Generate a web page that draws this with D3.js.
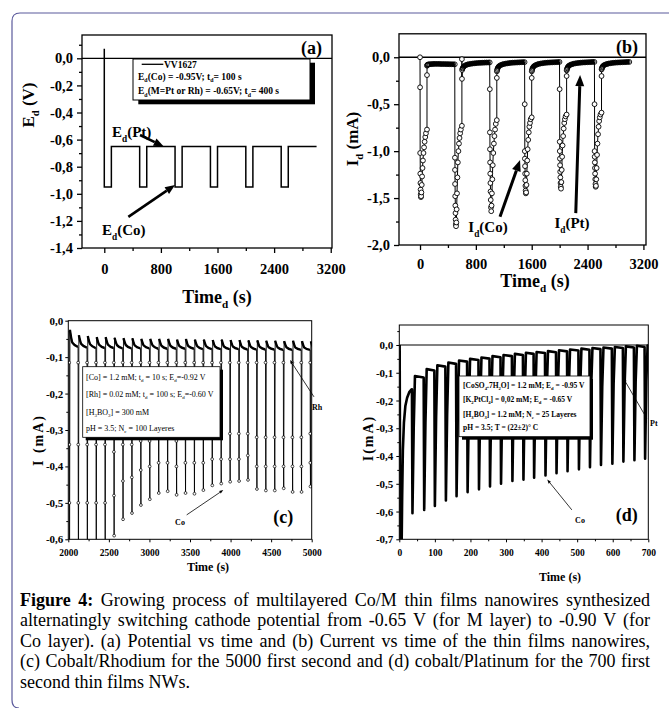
<!DOCTYPE html>
<html>
<head>
<meta charset="utf-8">
<script src="https://cdn.jsdelivr.net/npm/d3@7/dist/d3.min.js"></script>
<style>
body { margin: 0; background: #fff; }
svg { display: block; }
text { font-family: "Liberation Serif", "Times New Roman", serif; fill: #000; }
</style>
</head>
<body>
<svg id="fig"></svg>
<script>
// ---- data: (a) potential vs time
var aTime = [0, 0, 100, 100, 500, 500, 600, 600, 1000, 1000, 1100, 1100, 1500, 1500, 1600, 1600, 2000, 2000, 2100, 2100, 2500, 2500, 2600, 2600, 3000];
var aPotential = [0.07, -0.95, -0.95, -0.65, -0.65, -0.95, -0.95, -0.65, -0.65, -0.95, -0.95, -0.65, -0.65, -0.95, -0.95, -0.65, -0.65, -0.95, -0.95, -0.65, -0.65, -0.95, -0.95, -0.65, -0.65];

// ---- data: (b) current vs time, one row per Co/Pt cycle
var bCycleStart = [0, 500, 1000, 1500, 2000, 2500];
var bCoOffsets = [0, 1, 2, 4, 6, 8, 10, 13, 16, 20, 25, 30, 36, 42, 50, 58, 66, 75, 85, 100];
var bCoValues = [
    [0.0, -0.32, -1.02, -1.24, -1.34, -1.41, -1.46, -1.49, -1.48, -1.44, -1.36, -1.27, -1.18, -1.10, -1.02, -0.96, -0.90, -0.85, -0.81, -0.77],
    [-1.07, -1.20, -1.35, -1.48, -1.58, -1.66, -1.73, -1.78, -1.80, -1.76, -1.62, -1.45, -1.28, -1.12, -1.00, -0.92, -0.86, -0.81, -0.77, -0.73],
    [-0.34, -0.80, -0.98, -1.12, -1.24, -1.34, -1.43, -1.52, -1.60, -1.64, -1.58, -1.45, -1.30, -1.15, -1.02, -0.92, -0.84, -0.77, -0.71, -0.67],
    [-0.50, -1.00, -1.08, -1.16, -1.24, -1.31, -1.37, -1.42, -1.45, -1.44, -1.36, -1.24, -1.10, -0.98, -0.88, -0.80, -0.74, -0.70, -0.66, -0.64],
    [-0.34, -0.90, -1.00, -1.08, -1.15, -1.22, -1.28, -1.34, -1.38, -1.40, -1.33, -1.20, -1.06, -0.94, -0.84, -0.76, -0.70, -0.66, -0.63, -0.61],
    [-0.50, -1.00, -1.06, -1.12, -1.18, -1.24, -1.30, -1.35, -1.38, -1.37, -1.30, -1.18, -1.04, -0.92, -0.82, -0.74, -0.68, -0.64, -0.61, -0.59]
];
var bPtOffsets = [100, 101, 103, 108, 115, 125, 140, 160, 180, 200, 225, 250, 275, 300, 325, 350, 375, 400, 425, 450, 475, 498];
var bPtValues = [
    [-0.19, -0.09, -0.085, -0.08, -0.078, -0.076, -0.074, -0.073, -0.072, -0.071, -0.071, -0.071, -0.071, -0.072, -0.072, -0.072, -0.073, -0.073, -0.074, -0.074, -0.075, -0.075],
    [-0.02, -0.23, -0.135, -0.12, -0.11, -0.1, -0.09, -0.082, -0.077, -0.073, -0.07, -0.067, -0.065, -0.063, -0.061, -0.06, -0.059, -0.058, -0.057, -0.056, -0.056, -0.055],
    [-0.22, -0.15, -0.14, -0.125, -0.112, -0.1, -0.09, -0.082, -0.076, -0.072, -0.068, -0.065, -0.062, -0.06, -0.058, -0.057, -0.056, -0.055, -0.054, -0.053, -0.052, -0.052],
    [-0.22, -0.15, -0.14, -0.125, -0.112, -0.1, -0.09, -0.082, -0.076, -0.071, -0.067, -0.064, -0.061, -0.059, -0.057, -0.056, -0.055, -0.054, -0.053, -0.052, -0.051, -0.05],
    [-0.2, -0.14, -0.13, -0.118, -0.106, -0.095, -0.086, -0.079, -0.073, -0.069, -0.065, -0.062, -0.06, -0.058, -0.056, -0.055, -0.054, -0.053, -0.052, -0.051, -0.05, -0.05],
    [-0.2, -0.13, -0.122, -0.11, -0.1, -0.09, -0.082, -0.076, -0.071, -0.067, -0.064, -0.061, -0.059, -0.057, -0.056, -0.055, -0.054, -0.053, -0.052, -0.051, -0.05, -0.05]
];

// ---- data: (c) Co/Rh, one entry per Co pulse
var cStartLevel = -0.03;
var cSpikeT = [2010, 2120, 2230, 2340, 2450, 2560, 2670, 2780, 2890, 3000, 3110, 3220, 3330, 3440, 3550, 3660, 3770, 3880, 3990, 4100, 4210, 4320, 4430, 4540, 4650, 4760, 4870, 4980];
var cMarkHigh = [-0.115, -0.115, -0.115, -0.115, -0.115, -0.115, -0.115, -0.115, -0.115, -0.115, -0.115, -0.115, -0.115, -0.115, -0.115, -0.115, -0.115, -0.115, -0.115, -0.115, -0.115, -0.115, -0.115, -0.115, -0.115, -0.115, -0.115, -0.115];
var cMarkMid = [-0.34, -0.34, -0.34, -0.34, -0.34, -0.36, -0.34, -0.34, -0.33, -0.33, -0.32, -0.32, -0.33, -0.32, -0.32, -0.32, -0.31, -0.31, -0.31, -0.31, -0.31, -0.32, -0.32, -0.32, -0.32, -0.32, -0.32, -0.31];
var cMarkLow = [-0.5, -0.5, -0.5, -0.5, -0.5, -0.48, -0.44, -0.43, -0.41, -0.4, -0.39, -0.39, -0.4, -0.39, -0.39, -0.39, -0.38, -0.38, -0.38, -0.38, -0.37, -0.4, -0.4, -0.4, -0.4, -0.4, -0.4, -0.39];
var cMin = [-0.78, -0.74, -0.71, -0.68, -0.65, -0.59, -0.545, -0.528, -0.506, -0.49, -0.473, -0.468, -0.478, -0.473, -0.475, -0.465, -0.452, -0.447, -0.442, -0.44, -0.437, -0.462, -0.466, -0.466, -0.46, -0.47, -0.47, -0.455];
var cPeak = [-0.025, -0.04, -0.042, -0.045, -0.045, -0.047, -0.048, -0.048, -0.05, -0.05, -0.05, -0.05, -0.052, -0.05, -0.052, -0.052, -0.053, -0.052, -0.053, -0.053, -0.054, -0.054, -0.055, -0.055, -0.056, -0.055, -0.056, -0.057];
var cKnee = [-0.06, -0.064, -0.065, -0.066, -0.066, -0.067, -0.067, -0.068, -0.068, -0.068, -0.069, -0.069, -0.07, -0.07, -0.07, -0.07, -0.071, -0.071, -0.071, -0.072, -0.072, -0.072, -0.073, -0.073, -0.073, -0.074, -0.074, -0.074];
var cEnd = [-0.072, -0.074, -0.075, -0.075, -0.075, -0.076, -0.076, -0.076, -0.076, -0.077, -0.077, -0.077, -0.077, -0.077, -0.078, -0.078, -0.078, -0.078, -0.078, -0.079, -0.079, -0.079, -0.079, -0.08, -0.08, -0.08, -0.08, -0.08];

// ---- data: (d) Co/Pt, first recovery then one entry per Co pulse
var dFirstT = [1, 3, 6, 8, 10, 13, 17, 22, 28, 34.5];
var dFirstI = [0, -0.85, -0.8, -0.55, -0.38, -0.28, -0.22, -0.19, -0.17, -0.16];
var dSpikeT = [6, 37, 70, 100, 131, 161, 192, 224, 255, 286, 318, 349, 379, 411, 442, 473, 505, 536, 567, 599, 630, 661, 691];
var dMin = [-0.8, -0.606, -0.594, -0.58, -0.56, -0.545, -0.53, -0.52, -0.51, -0.5, -0.49, -0.485, -0.478, -0.47, -0.462, -0.455, -0.448, -0.44, -0.432, -0.428, -0.42, -0.415, -0.41];
var dRiseMid = [-0.3, -0.3, -0.28, -0.26, -0.25, -0.24, -0.23, -0.22, -0.21, -0.2, -0.19, -0.19, -0.18, -0.17, -0.17, -0.16, -0.16, -0.15, -0.15, -0.14, -0.14, -0.13, -0.13];
var dTop = [-0.16, -0.112, -0.087, -0.073, -0.063, -0.056, -0.05, -0.045, -0.04, -0.036, -0.032, -0.028, -0.025, -0.022, -0.019, -0.016, -0.013, -0.011, -0.009, -0.007, -0.005, -0.003, -0.002];
var dTopEnd = [-0.16, -0.117, -0.092, -0.078, -0.068, -0.06, -0.054, -0.049, -0.044, -0.04, -0.036, -0.032, -0.029, -0.026, -0.023, -0.02, -0.017, -0.015, -0.013, -0.011, -0.009, -0.007, -0.006];

// ---- tick values
var timeTicksAB = [0, 800, 1600, 2400, 3200];
var timeMinorAB = [400, 1200, 2000, 2800];
var aYTicks = [0, -0.2, -0.4, -0.6, -0.8, -1.0, -1.2, -1.4];
var aYMinor = [0.1, -0.1, -0.3, -0.5, -0.7, -0.9, -1.1, -1.3];
var bYTicks = [0, -0.5, -1.0, -1.5, -2.0];
var bYMinor = [-0.25, -0.75, -1.25, -1.75];
var cXTicks = [2000, 2500, 3000, 3500, 4000, 4500, 5000];
var cXMinor = [2250, 2750, 3250, 3750, 4250, 4750];
var cYTicks = [0, -0.1, -0.2, -0.3, -0.4, -0.5, -0.6];
var cYMinor = [-0.05, -0.15, -0.25, -0.35, -0.45, -0.55];
var dXTicks = [0, 100, 200, 300, 400, 500, 600, 700];
var dXMinor = [50, 150, 250, 350, 450, 550, 650];
var dYTicks = [0, -0.1, -0.2, -0.3, -0.4, -0.5, -0.6, -0.7];
var dYMinor = [0.05, -0.05, -0.15, -0.25, -0.35, -0.45, -0.55, -0.65];

var capLines = [
    "Figure 4: Growing process of multilayered Co/M thin films nanowires synthesized",
    "alternatingly switching cathode potential from -0.65 V (for M layer) to -0.90 V (for",
    "Co layer). (a) Potential vs time and (b) Current vs time of the thin films nanowires,",
    "(c) Cobalt/Rhodium for the 5000 first second and (d) cobalt/Platinum for the 700 first",
    "second thin films NWs."
];

var svg = d3.select("#fig").attr("width", 669).attr("height", 708);
svg.append("rect").attr("width", 669).attr("height", 708).attr("fill", "#fff");

// outer rounded frame
svg.append("path")
    .attr("d", "M 680 13 H 20 Q 12 13 12 21 V 700 Q 12 708 19 708")
    .attr("fill", "none").attr("stroke", "#5b5a9c").attr("stroke-width", 1.2);

function commaFmt(v) {
    return Math.abs(v) < 1e-9 ? "0,0" : v.toFixed(1).replace(".", ",");
}

// text with subscripts: parts = [[string, isSub], ...]
function rich(sel, parts, size) {
    var shift = 0;
    parts.forEach(function (p) {
        var t = sel.append("tspan").text(p[0]);
        if (p[1]) {
            t.attr("dy", size * 0.3).style("font-size", (size * 0.62) + "px");
            shift = size * 0.3;
        } else if (shift) {
            t.attr("dy", -shift);
            shift = 0;
        }
    });
    return sel;
}

function makePanel(p) {
    var x = d3.scaleLinear().domain(p.xDomain).range(p.xRange);
    var y = d3.scaleLinear().domain(p.yDomain).range(p.yRange);
    var g = svg.append("g");
    svg.append("clipPath").attr("id", "clip-" + p.name).append("rect")
        .attr("x", p.xRange[0]).attr("y", p.yRange[0])
        .attr("width", p.xRange[1] - p.xRange[0]).attr("height", p.yRange[1] - p.yRange[0]);

    var left = g.append("g").attr("transform", "translate(" + p.xRange[0] + ",0)");
    left.append("g").call(d3.axisLeft(y).tickValues(p.yMinor).tickSize(p.minor).tickFormat(""));
    left.append("g").call(d3.axisLeft(y).tickValues(p.yTicks).tickSize(p.major).tickPadding(p.yPad).tickFormat(commaFmt))
        .selectAll("text").style("font", "bold " + p.yFont + "px 'Liberation Serif', serif");
    var bottom = g.append("g").attr("transform", "translate(0," + p.yRange[1] + ")");
    bottom.append("g").call(d3.axisBottom(x).tickValues(p.xMinor).tickSize(p.minor).tickFormat(""));
    bottom.append("g").call(d3.axisBottom(x).tickValues(p.xTicks).tickSize(p.major).tickPadding(p.xPad).tickFormat(d3.format("d")))
        .selectAll("text").style("font", "bold " + p.xFont + "px 'Liberation Serif', serif");
    g.selectAll(".domain").remove();
    g.selectAll(".tick line").attr("stroke", "#000").attr("stroke-width", p.frameW);
    g.selectAll(".tick text").attr("fill", "#000");

    var plot = g.append("g").attr("clip-path", "url(#clip-" + p.name + ")");
    g.append("rect")
        .attr("x", p.xRange[0]).attr("y", p.yRange[0])
        .attr("width", p.xRange[1] - p.xRange[0]).attr("height", p.yRange[1] - p.yRange[0])
        .attr("fill", "none").attr("stroke", "#000").attr("stroke-width", p.frameW);
    return { x: x, y: y, g: g, plot: plot };
}

function arrow(g, x1, y1, x2, y2, w, headL, headW) {
    var dx = x2 - x1, dy = y2 - y1, len = Math.sqrt(dx * dx + dy * dy);
    var ux = dx / len, uy = dy / len;
    var bx = x2 - ux * headL, by = y2 - uy * headL;
    g.append("line").attr("x1", x1).attr("y1", y1).attr("x2", bx).attr("y2", by)
        .attr("stroke", "#000").attr("stroke-width", w);
    g.append("path")
        .attr("d", "M" + x2 + "," + y2 + "L" + (bx - uy * headW / 2) + "," + (by + ux * headW / 2) +
            "L" + (bx + uy * headW / 2) + "," + (by - ux * headW / 2) + "Z")
        .attr("fill", "#000");
}

function yTitle(g, cx, cy, parts, size, spacing) {
    var t = g.append("text").attr("transform", "translate(" + cx + "," + cy + ") rotate(-90)")
        .attr("text-anchor", "middle").attr("dy", "0.35em")
        .style("font-size", size + "px").style("font-weight", "bold");
    if (spacing) t.style("letter-spacing", spacing + "px");
    rich(t, parts, size);
}

function xTitle(g, cx, base, parts, size) {
    var t = g.append("text").attr("x", cx).attr("y", base).attr("text-anchor", "middle")
        .style("font-size", size + "px").style("font-weight", "bold");
    rich(t, parts, size);
}

// ================= (a)
var pa = makePanel({
    name: "a", xDomain: [-315, 3218], xRange: [82, 332], yDomain: [0.172, -1.4], yRange: [35, 248],
    yTicks: aYTicks, yMinor: aYMinor, xTicks: timeTicksAB, xMinor: timeMinorAB,
    major: 5, minor: 3, yPad: 4, xPad: 11, yFont: 14.5, xFont: 14.5, frameW: 1.3
});
pa.plot.append("line").attr("x1", 82).attr("x2", 332).attr("y1", pa.y(0)).attr("y2", pa.y(0))
    .attr("stroke", "#000").attr("stroke-width", 1.3);
pa.plot.append("path")
    .datum(aTime.map(function (t, i) { return [t, aPotential[i]]; }))
    .attr("d", d3.line().x(function (d) { return pa.x(d[0]); }).y(function (d) { return pa.y(d[1]); }))
    .attr("fill", "none").attr("stroke", "#000").attr("stroke-width", 1.5);

// legend box
pa.g.append("rect").attr("x", 138.3).attr("y", 62.7).attr("width", 176.7).attr("height", 41.6).attr("fill", "#000");
pa.g.append("rect").attr("x", 133).attr("y", 59).attr("width", 177).attr("height", 41).attr("fill", "#fff")
    .attr("stroke", "#000").attr("stroke-width", 1);
pa.g.append("line").attr("x1", 141.7).attr("x2", 163.3).attr("y1", 64.3).attr("y2", 64.3).attr("stroke", "#000").attr("stroke-width", 1.3);
pa.g.append("text").attr("x", 164).attr("y", 67.6).style("font-size", "9.5px").style("font-weight", "bold").text("VV1627");
rich(pa.g.append("text").attr("x", 138).attr("y", 79.5).style("font-size", "9.5px").style("font-weight", "bold"),
    [["E", 0], ["d", 1], ["(Co) = -0.95V; t", 0], ["d", 1], ["= 100 s", 0]], 9.5);
rich(pa.g.append("text").attr("x", 138).attr("y", 94).style("font-size", "9.5px").style("font-weight", "bold"),
    [["E", 0], ["d", 1], ["(M=Pt or Rh) = -0.65V; t", 0], ["d", 1], ["= 400 s", 0]], 9.5);
pa.g.append("text").attr("x", 322).attr("y", 54).attr("text-anchor", "end")
    .style("font-size", "18px").style("font-weight", "bold").text("(a)");

rich(pa.g.append("text").attr("x", 112).attr("y", 137).style("font-size", "15px").style("font-weight", "bold"),
    [["E", 0], ["d", 1], ["(Pt)", 0]], 15);
arrow(pa.g, pa.x(505), pa.y(-0.566), pa.x(840), pa.y(-0.65), 2.6, 10, 8);
rich(pa.g.append("text").attr("x", 102).attr("y", 235).style("font-size", "15px").style("font-weight", "bold"),
    [["E", 0], ["d", 1], ["(Co)", 0]], 15);
arrow(pa.g, pa.x(340), pa.y(-1.17), pa.x(1000), pa.y(-0.935), 2.6, 10, 8);

yTitle(pa.g, 28, 105, [["E", 0], ["d", 1], [" (V)", 0]], 17);
xTitle(pa.g, 217, 303, [["Time", 0], ["d", 1], [" (s)", 0]], 18);

// ================= (b)
var pb = makePanel({
    name: "b", xDomain: [-301, 3237], xRange: [399, 646], yDomain: [0.25, -2.0], yRange: [33.8, 245],
    yTicks: bYTicks, yMinor: bYMinor, xTicks: timeTicksAB, xMinor: timeMinorAB,
    major: 5, minor: 3, yPad: 4, xPad: 9, yFont: 14.5, xFont: 14.5, frameW: 1.3
});
pb.plot.append("line").attr("x1", 399).attr("x2", 646).attr("y1", pb.y(0)).attr("y2", pb.y(0))
    .attr("stroke", "#000").attr("stroke-width", 1.3);
var bPts = [], bBands = [];
bCycleStart.forEach(function (t0, k) {
    bCoOffsets.forEach(function (o, i) { bPts.push({ t: t0 + o, v: bCoValues[k][i], band: false }); });
    var band = [];
    bPtOffsets.forEach(function (o, i) {
        bPts.push({ t: t0 + o, v: bPtValues[k][i], band: i >= 3 });
        if (i >= 2) band.push({ t: t0 + o, v: bPtValues[k][i] });
    });
    bBands.push(band);
});
var bLine = d3.line().x(function (d) { return pb.x(d.t); }).y(function (d) { return pb.y(d.v); });
pb.plot.append("path").datum(bPts).attr("d", bLine)
    .attr("fill", "none").attr("stroke", "#000").attr("stroke-width", 1);
pb.plot.selectAll(".band").data(bBands).enter().append("path").attr("class", "band")
    .attr("d", bLine).attr("fill", "none").attr("stroke", "#000").attr("stroke-width", 4.2);
pb.plot.selectAll("circle").data(bPts).enter().append("circle")
    .attr("cx", function (d) { return pb.x(d.t); })
    .attr("cy", function (d) { return pb.y(d.v); })
    .attr("r", 2.4).attr("fill", function (d) { return d.band ? "none" : "#fff"; })
    .attr("stroke", "#000").attr("stroke-width", 0.9);
pb.g.append("text").attr("x", 638).attr("y", 53).attr("text-anchor", "end")
    .style("font-size", "18px").style("font-weight", "bold").text("(b)");
rich(pb.g.append("text").attr("x", 488).attr("y", 232).attr("text-anchor", "middle").style("font-size", "15px").style("font-weight", "bold"),
    [["I", 0], ["d", 1], ["(Co)", 0]], 15);
arrow(pb.g, pb.x(1146), pb.y(-1.70), pb.x(1433), pb.y(-1.095), 3, 11, 9);
rich(pb.g.append("text").attr("x", 572).attr("y", 228).attr("text-anchor", "middle").style("font-size", "15px").style("font-weight", "bold"),
    [["I", 0], ["d", 1], ["(Pt)", 0]], 15);
arrow(pb.g, pb.x(2231), pb.y(-1.66), pb.x(2293), pb.y(-0.19), 3, 11, 9);
yTitle(pb.g, 352, 139, [["I", 0], ["d", 1], [" (mA)", 0]], 17);
xTitle(pb.g, 535, 287, [["Time", 0], ["d", 1], [" (s)", 0]], 18);

// ================= (c)
var pc = makePanel({
    name: "c", xDomain: [2000, 5000], xRange: [68.3, 311.7], yDomain: [0, -0.6], yRange: [320.7, 539.3],
    yTicks: cYTicks, yMinor: cYMinor, xTicks: cXTicks, xMinor: cXMinor,
    major: 3, minor: 2, yPad: 2, xPad: 7, yFont: 11, xFont: 9.5, frameW: 1
});
var cPts = [[2000, cStartLevel]], cMarks = [], cBands = [];
cSpikeT.forEach(function (t, k) {
    var prev = k === 0 ? cStartLevel : cEnd[k - 1];
    var next = k + 1 < cSpikeT.length ? cSpikeT[k + 1] : t + 110;
    cPts.push([t, prev], [t + 1, cMarkHigh[k]], [t + 2, cMarkMid[k]], [t + 3, cMarkLow[k]], [t + 5, cMin[k]],
        [t + 10, cPeak[k]], [t + 40, cKnee[k]], [next - 2, cEnd[k]]);
    cMarks.push([t + 1, cMarkHigh[k]], [t + 2, cMarkMid[k]], [t + 3, cMarkLow[k]], [t + 5, cMin[k]]);
    cBands.push([[t + 10, cPeak[k]], [t + 40, cKnee[k]], [next - 2, cEnd[k]]]);
});
var cLine = d3.line().x(function (d) { return pc.x(d[0]); }).y(function (d) { return pc.y(d[1]); });
pc.plot.append("path").datum(cPts).attr("d", cLine)
    .attr("fill", "none").attr("stroke", "#000").attr("stroke-width", 0.9);
pc.plot.selectAll(".band").data(cBands).enter().append("path").attr("class", "band")
    .attr("d", cLine.curve(d3.curveMonotoneX))
    .attr("fill", "none").attr("stroke", "#000").attr("stroke-width", 2.4);
pc.plot.selectAll("circle").data(cMarks).enter().append("circle")
    .attr("cx", function (d) { return pc.x(d[0]); })
    .attr("cy", function (d) { return pc.y(d[1]); })
    .attr("r", 1.4).attr("fill", "#fff").attr("stroke", "#000").attr("stroke-width", 0.7);

pc.g.append("rect").attr("x", 85.7).attr("y", 369.7).attr("width", 137.3).attr("height", 70.6).attr("fill", "#000");
pc.g.append("rect").attr("x", 82.7).attr("y", 366.7).attr("width", 137.3).attr("height", 70.6).attr("fill", "#fff")
    .attr("stroke", "#000").attr("stroke-width", 0.8);
var cBox = [
    [["[Co] = 1.2 mM; t", 0], ["d", 1], [" = 10 s; E", 0], ["d", 1], ["=-0.92 V", 0]],
    [["[Rh] = 0.02 mM; t", 0], ["d", 1], [" = 100 s; E", 0], ["d", 1], ["=-0.60 V", 0]],
    [["[H", 0], ["3", 1], ["BO", 0], ["3", 1], ["] = 300 mM", 0]],
    [["pH = 3.5; N", 0], ["c", 1], [" = 100 Layeres", 0]]
];
var cBoxBase = [379.5, 397, 414.5, 431];
cBox.forEach(function (parts, i) {
    rich(pc.g.append("text").attr("x", 86).attr("y", cBoxBase[i]).style("font-size", "8px"), parts, 8);
});
pc.g.append("text").attr("x", 283.3).attr("y", 523).attr("text-anchor", "middle")
    .style("font-size", "18px").style("font-weight", "bold").text("(c)");
pc.g.append("text").attr("x", 180).attr("y", 524.5).attr("text-anchor", "middle")
    .style("font-size", "8px").style("font-weight", "bold").text("Co");
arrow(pc.g, pc.x(3459), pc.y(-0.533), pc.x(3910), pc.y(-0.465), 0.8, 4, 3);
pc.g.append("text").attr("x", 312).attr("y", 409.5)
    .style("font-size", "8px").style("font-weight", "bold").text("Rh");
arrow(pc.g, pc.x(5028), pc.y(-0.209), pc.x(4733), pc.y(-0.108), 0.8, 4, 3);
yTitle(pc.g, 38, 440, [["I (mA)", 0]], 14, 2);
xTitle(pc.g, 208, 571, [["Time (s)", 0]], 12);

// ================= (d)
var pd = makePanel({
    name: "d", xDomain: [0, 700], xRange: [399.3, 648.3], yDomain: [0.072, -0.7], yRange: [325, 539.3],
    yTicks: dYTicks, yMinor: dYMinor, xTicks: dXTicks, xMinor: dXMinor,
    major: 3, minor: 2, yPad: 3, xPad: 7, yFont: 11, xFont: 9.5, frameW: 1
});
pd.plot.append("line").attr("x1", 399.3).attr("x2", 648.3).attr("y1", pd.y(0)).attr("y2", pd.y(0))
    .attr("stroke", "#000").attr("stroke-width", 1.2);
var dPts = dFirstT.map(function (t, i) { return [t, dFirstI[i]]; });
for (var k = 1; k < dSpikeT.length; k++) {
    var prevEnd = dPts[dPts.length - 1][1];
    var t = dSpikeT[k];
    var nextT = k + 1 < dSpikeT.length ? dSpikeT[k + 1] - 1.5 : 700;
    dPts.push([t - 1.5, prevEnd], [t, dMin[k]], [t + 3.5, dRiseMid[k]], [t + 7, dTop[k]], [nextT, dTopEnd[k]]);
}
pd.plot.append("path").datum(dPts)
    .attr("d", d3.line().x(function (d) { return pd.x(d[0]); }).y(function (d) { return pd.y(d[1]); }))
    .attr("fill", "none").attr("stroke", "#000").attr("stroke-width", 2.6).attr("stroke-linejoin", "round");

pd.g.append("rect").attr("x", 462).attr("y", 379).attr("width", 131).attr("height", 60.7).attr("fill", "#000");
pd.g.append("rect").attr("x", 459).attr("y", 376).attr("width", 131).attr("height", 60.7).attr("fill", "#fff")
    .attr("stroke", "#000").attr("stroke-width", 0.8);
var dBox = [
    [["[CoSO", 0], ["4", 1], [".7H", 0], ["2", 1], ["O] = 1.2 mM; E", 0], ["d", 1], [" = -0.95 V", 0]],
    [["[K", 0], ["2", 1], ["PtCl", 0], ["4", 1], ["] = 0,02 mM; E", 0], ["d", 1], [" = -0.65 V", 0]],
    [["[H", 0], ["3", 1], ["BO", 0], ["3", 1], ["] = 1.2 mM; N", 0], ["c", 1], [" = 25 Layeres", 0]],
    [["pH = 3.5; T = (22\u00b12)\u00b0 C", 0]]
];
var dBoxBase = [388, 402, 416.5, 430];
dBox.forEach(function (parts, i) {
    rich(pd.g.append("text").attr("x", 463).attr("y", dBoxBase[i]).style("font-size", "7.5px").style("font-weight", "bold"), parts, 7.5);
});
pd.g.append("text").attr("x", 626.7).attr("y", 521).attr("text-anchor", "middle")
    .style("font-size", "18px").style("font-weight", "bold").text("(d)");
pd.g.append("text").attr("x", 580).attr("y", 523).attr("text-anchor", "middle")
    .style("font-size", "8px").style("font-weight", "bold").text("Co");
arrow(pd.g, pd.x(485), pd.y(-0.594), pd.x(416), pd.y(-0.485), 0.8, 4, 3);
pd.g.append("text").attr("x", 650).attr("y", 426)
    .style("font-size", "8px").style("font-weight", "bold").text("Pt");
arrow(pd.g, pd.x(695.5), pd.y(-0.264), pd.x(630), pd.y(-0.12), 0.8, 4, 3);
yTitle(pd.g, 368, 438, [["I(mA)", 0]], 14, 2);
xTitle(pd.g, 560, 581, [["Time (s)", 0]], 12);

// ================= caption, justified
var capBase = [605.5, 626, 646.5, 667, 687.5];
var capLeft = 20, capRight = 650;
capLines.forEach(function (line, i) {
    var words = line.split(" ");
    var nodes = words.map(function (w, j) {
        var t = svg.append("text").attr("y", capBase[i]).style("font-size", "18px").text(w);
        if (i === 0 && j < 2) t.style("font-weight", "bold");
        return t;
    });
    var widths = nodes.map(function (t) { return t.node().getComputedTextLength(); });
    var total = d3.sum(widths);
    var gap = i < capLines.length - 1 ? (capRight - capLeft - total) / (words.length - 1) : 4.5;
    var xPos = capLeft;
    nodes.forEach(function (t, j) {
        t.attr("x", xPos);
        xPos += widths[j] + gap;
    });
});
</script>
</body>
</html>
